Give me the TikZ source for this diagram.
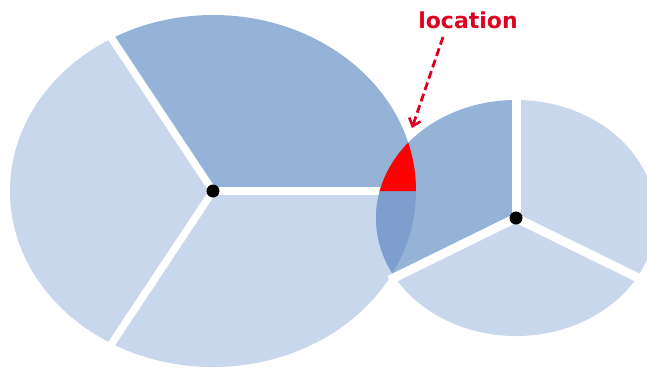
\documentclass[tikz,border=0pt]{standalone}
\usepackage{fontspec}
\newfontfamily\labelfont{DejaVu Sans}
\usetikzlibrary{arrows.meta}
\definecolor{darkpie}{HTML}{95B3D7}
\definecolor{lightpie}{HTML}{C8D7EB}
\definecolor{overlappie}{HTML}{7E9FCD}
\definecolor{labelred}{RGB}{222,0,32}
\tikzset{
  sep/.style={white, line width=7.5pt},
  smallsep/.style={white, line width=9pt},
  dot/.style={fill=black},
}
\begin{document}
\begin{tikzpicture}[x=1pt,y=1pt]
\fill[white] (0,0) rectangle (647,368);
\useasboundingbox (0,0) rectangle (647,368);
\coordinate (B) at (213,177);
\coordinate (S) at (516,150);
\def\brx{203}\def\bry{176}
\def\srx{140}\def\sry{118}
% big pie
\fill[darkpie] (B) -- ++(0:\brx pt and \bry pt) arc[start angle=0,end angle=120,x radius=\brx,y radius=\bry] -- cycle;
\fill[lightpie] (B) -- ++(120:\brx pt and \bry pt) arc[start angle=120,end angle=240,x radius=\brx,y radius=\bry] -- cycle;
\fill[lightpie] (B) -- ++(240:\brx pt and \bry pt) arc[start angle=240,end angle=360,x radius=\brx,y radius=\bry] -- cycle;
\foreach \a in {0,120,240} \draw[sep] (B) -- ++(\a:\brx pt+4pt and \bry pt+4pt);
% small pie
\fill[darkpie] (S) -- ++(90:\srx pt and \sry pt) arc[start angle=90,end angle=210,x radius=\srx,y radius=\sry] -- cycle;
\fill[lightpie] (S) -- ++(210:\srx pt and \sry pt) arc[start angle=210,end angle=330,x radius=\srx,y radius=\sry] -- cycle;
\fill[lightpie] (S) -- ++(330:\srx pt and \sry pt) arc[start angle=330,end angle=450,x radius=\srx,y radius=\sry] -- cycle;
% overlap
\begin{scope}
\clip (S) -- ++(90:\srx pt and \sry pt) arc[start angle=90,end angle=210,x radius=\srx,y radius=\sry] -- cycle;
\fill[overlappie] (B) ellipse[x radius=\brx,y radius=\bry];
\fill[red] (B) -- ++(0:\brx pt and \bry pt) arc[start angle=0,end angle=120,x radius=\brx,y radius=\bry] -- cycle;
\end{scope}
\foreach \a in {90,210,330} \draw[smallsep] (S) -- ++(\a:\srx pt+6pt and \sry pt+6pt);
% centers
\fill[dot] (B) circle[radius=6.5];
\fill[dot] (S) circle[radius=6.5];
% label
\node[text=labelred, font=\labelfont\bfseries\fontsize{22}{24}\selectfont, inner sep=0pt] (lab) at (468,348) {location};
\coordinate (tip) at (412,240);
\draw[labelred, line width=2.8pt, dash pattern=on 8pt off 4pt, -{Straight Barb[length=7pt,width=12pt,line width=2.6pt]}] (443,331) -- (tip);
\end{tikzpicture}
\end{document}
